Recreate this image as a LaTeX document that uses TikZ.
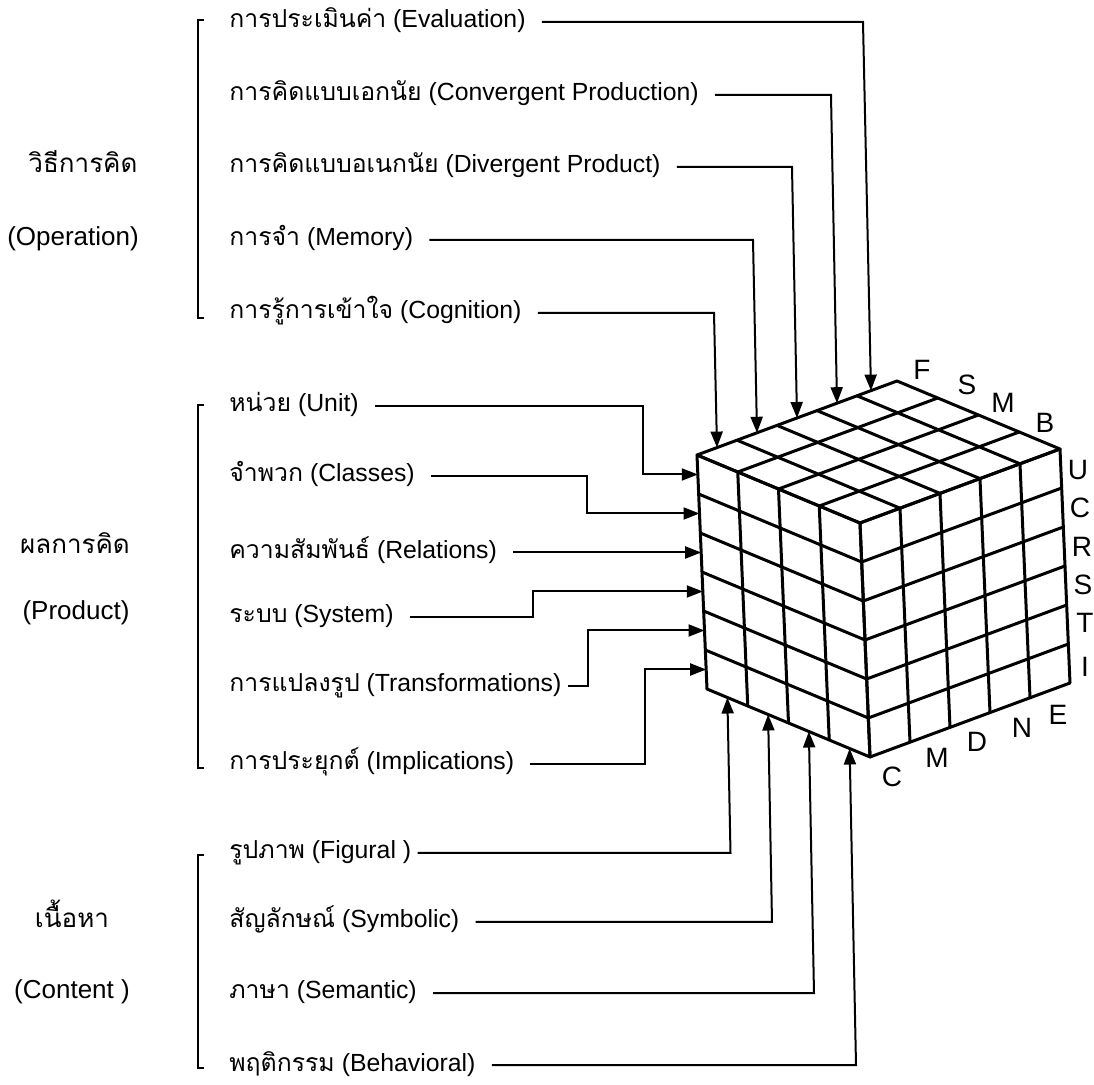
\documentclass[tikz,border=0pt]{standalone}
\usepackage{fontspec}
\setmainfont{Liberation Sans}
\newfontfamily\thaifont[Script=Thai]{Loma}
\usetikzlibrary{arrows.meta}
\newcommand\thtxt[1]{{\thaifont #1}}
\tikzset{
  lbl/.style={anchor=west, inner sep=0pt, text height=0.7em, text depth=0.1em, font=\fontsize{12.4}{15}\selectfont},
  grp/.style={anchor=center, inner sep=0pt, text height=0.7em, text depth=0.1em, font=\fontsize{13}{15}\selectfont},
  cubelbl/.style={inner sep=0pt, font=\fontsize{14}{16}\selectfont},
  conn/.style={line width=1pt, -{Triangle[length=8pt,width=6pt]}, shorten <=8pt},
  gridline/.style={line width=1.5pt, line cap=round, line join=round},
  brk/.style={line width=0.8pt},
}
\begin{document}
\begin{tikzpicture}[x=0.5pt,y=-0.5pt]
\useasboundingbox (0,0) rectangle (1094,1085);

% ---------------- cube ----------------
\begin{scope}[shift={(860,523)}, x={(-20.375pt,8.5pt)}, y={(20pt,7.4pt)}, z={(0.833pt,-19.5pt)}]
  \foreach \i in {0,...,4} \draw[gridline] (\i,0,0) -- (\i,5,0) (\i,0,0) -- (\i,0,6);
  \foreach \j in {0,...,5} \draw[gridline] (0,\j,0) -- (4,\j,0) (0,\j,0) -- (0,\j,6);
  \foreach \k in {0,...,6} \draw[gridline] (0,0,\k) -- (4,0,\k) (0,0,\k) -- (0,5,\k);
  % arrow targets
  \coordinate (tcog) at (4,0.5,0);
  \coordinate (tmem) at (4,1.5,0);
  \coordinate (tdiv) at (4,2.5,0);
  \coordinate (tcon) at (4,3.5,0);
  \coordinate (teva) at (4,4.35,0);
  \coordinate (tunit) at (4,0,0.5);
  \coordinate (tcls) at (4,0,1.5);
  \coordinate (trel) at (4,0,2.5);
  \coordinate (tsys) at (4,0,3.5);
  \coordinate (ttrf) at (4,0,4.5);
  \coordinate (timp) at (4,0,5.5);
  \coordinate (tfig) at (3.5,0,6);
  \coordinate (tsym) at (2.5,0,6);
  \coordinate (tsem) at (1.5,0,6);
  \coordinate (tbeh) at (0.5,0,6);
\end{scope}

% cube letters
\node[cubelbl] (cF) at (922,370) {F};
\node[cubelbl] (cS) at (967,385) {S};
\node[cubelbl] (cM) at (1003,403) {M};
\node[cubelbl] (cB) at (1045,423) {B};
\node[cubelbl] (rU) at (1078,470) {U};
\node[cubelbl] (rC) at (1080,508) {C};
\node[cubelbl] (rR) at (1082,547) {R};
\node[cubelbl] (rS) at (1083,585) {S};
\node[cubelbl] (rT) at (1085,623) {T};
\node[cubelbl] (rI) at (1085,667) {I};
\node[cubelbl] (bC) at (892,777) {C};
\node[cubelbl] (bM) at (937,758) {M};
\node[cubelbl] (bD) at (977,742) {D};
\node[cubelbl] (bN) at (1022,728) {N};
\node[cubelbl] (bE) at (1058,715) {E};

% ---------------- group titles ----------------
\node[grp] (g1a) at (83,167) {\thtxt{วิธีการคิด}};
\node[grp] (g1b) at (73,240) {(Operation)};
\node[grp] (g2a) at (75,548) {\thtxt{ผลการคิด}};
\node[grp] (g2b) at (76,614) {(Product)};
\node[grp] (g3a) at (72,922) {\thtxt{เนื้อหา}};
\node[grp] (g3b) at (72,993) {(Content )};

% brackets
\draw[brk] (204,20) -- (198,20) -- (198,318) -- (204,318);
\draw[brk] (204,405) -- (198,405) -- (198,768) -- (204,768);
\draw[brk] (204,855) -- (198,855) -- (198,1068) -- (204,1068);

% ---------------- operation labels ----------------
\node[lbl] (eva) at (229,22) {\thtxt{การประเมินค่า} (Evaluation)};
\node[lbl] (con) at (229,95) {\thtxt{การคิดแบบเอกนัย} (Convergent Production)};
\node[lbl] (div) at (229,167) {\thtxt{การคิดแบบอเนกนัย} (Divergent Product)};
\node[lbl] (mem) at (229,240) {\thtxt{การจำ} (Memory)};
\node[lbl] (cog) at (229,313) {\thtxt{การรู้การเข้าใจ} (Cognition)};

% ---------------- product labels ----------------
\node[lbl] (unit) at (229,406) {\thtxt{หน่วย} (Unit)};
\node[lbl] (cls) at (229,476) {\thtxt{จำพวก} (Classes)};
\node[lbl] (rel) at (229,552.5) {\thtxt{ความสัมพันธ์} (Relations)};
\node[lbl] (sys) at (229,617) {\thtxt{ระบบ} (System)};
\node[lbl] (trf) at (229,686) {\thtxt{การแปลงรูป} (Transformations)};
\node[lbl] (imp) at (229,764) {\thtxt{การประยุกต์} (Implications)};

% ---------------- content labels ----------------
\node[lbl] (fig) at (229,853) {\thtxt{รูปภาพ} (Figural )};
\node[lbl] (sym) at (229,922) {\thtxt{สัญลักษณ์} (Symbolic)};
\node[lbl] (sem) at (229,993) {\thtxt{ภาษา} (Semantic)};
\node[lbl] (beh) at (229,1065) {\thtxt{พฤติกรรม} (Behavioral)};

% corner points
\coordinate (ceva) at (863,22);
\coordinate (ccon) at (831,95);
\coordinate (cdiv) at (792,167);
\coordinate (cmem) at (753,240);
\coordinate (ccog) at (714,313);
\coordinate (cunit) at (643,406);
\coordinate (ccls) at (587,476);
\coordinate (csys) at (533,617);
\coordinate (ctrf) at (588,686);
\coordinate (cimp) at (645,764);
\coordinate (cfig) at (730.5,853);
\coordinate (csym) at (772,922);
\coordinate (csem) at (814,993);
\coordinate (cbeh) at (856,1065);

% ---------------- connectors ----------------
\draw[conn] (eva.east) -- (ceva) -- (teva);
\draw[conn] (con.east) -- (ccon) -- (tcon);
\draw[conn] (div.east) -- (cdiv) -- (tdiv);
\draw[conn] (mem.east) -- (cmem) -- (tmem);
\draw[conn] (cog.east) -- (ccog) -- (tcog);

\draw[conn] (unit.east) -- (cunit) |- (tunit);
\draw[conn] (cls.east) -- (ccls) |- (tcls);
\draw[conn] (rel.east) -- (trel);
\draw[conn] (sys.east) -- (csys) |- (tsys);
\draw[conn,shorten <=3pt] (trf.east) -- (ctrf) |- (ttrf);
\draw[conn] (imp.east) -- (cimp) |- (timp);

\draw[conn,shorten <=3pt] (fig.east) -- (cfig) -- (tfig);
\draw[conn] (sym.east) -- (csym) -- (tsym);
\draw[conn] (sem.east) -- (csem) -- (tsem);
\draw[conn] (beh.east) -- (cbeh) -- (tbeh);
\end{tikzpicture}
\end{document}
